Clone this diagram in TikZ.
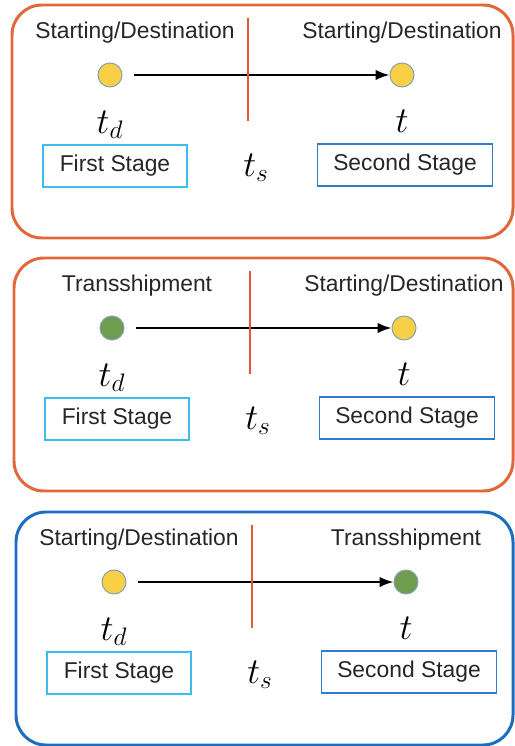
\documentclass[tikz,border=0pt]{standalone}
\usepackage{fontspec}
\setmainfont{Liberation Sans}
\usepackage{tikz}
\usetikzlibrary{arrows.meta, positioning}

\definecolor{panelorange}{HTML}{E2683C}
\definecolor{panelblue}{HTML}{1A6DC0}
\definecolor{divred}{HTML}{E05A3A}
\definecolor{nodeyellow}{HTML}{F7D046}
\definecolor{nodegreen}{HTML}{6F9D4E}
\definecolor{nodeedge}{HTML}{8AA2AE}
\definecolor{boxcyan}{HTML}{3DBDEE}
\definecolor{boxblue}{HTML}{2F7DCA}

\newcommand{\sdname}{Starting/Destination}
\newcommand{\tsname}{Transshipment}

\begin{document}
\begin{tikzpicture}[x=0.02cm, y=-0.02cm, >=Latex,
    panel/.style={draw, line width=1.7pt, rounded corners=0.6cm},
    stop/.style={circle, draw=nodeedge, line width=0.6pt, minimum size=0.48cm, inner sep=0pt},
    stagebox/.style={draw, line width=0.7pt, minimum height=0.84cm, font=\fontsize{13}{15}\selectfont, text=black!85},
    lbl/.style={font=\fontsize{13}{15}\selectfont, text=black!85},
    tlbl/.style={font=\fontsize{20}{24}\selectfont}]
    \useasboundingbox (0,0) rectangle (514,746);

    \foreach \oy/\ox/\lname/\rname/\lcol/\rcol/\pcol [count=\i] in {
        0/0/\sdname/\sdname/nodeyellow/nodeyellow/panelorange,
        253/2/\tsname/\sdname/nodegreen/nodeyellow/panelorange,
        507/4/\sdname/\tsname/nodeyellow/nodegreen/panelblue} {
    \begin{scope}[shift={(\ox,\oy)}]
        % Frame
        \draw [panel, \pcol] (12,5) rectangle ({513-\ox},238);

        % Locations
        \node [stop, fill=\lcol] (a\i) at (110,75) {};
        \node [stop, fill=\rcol] (b\i) at (402,75) {};
        \node [lbl] (la\i) at (135,33) {\lname};
        \node [lbl] (lb\i) at (402,33) {\rname};
        \draw [->, line width=1.1pt, shorten <=0.22cm] (a\i) -- (b\i);

        % Divider
        \coordinate (dtop\i) at (248,18);
        \coordinate (dbot\i) at (248,121);
        \draw [divred, line width=1pt] (dtop\i) -- (dbot\i);

        % Times
        \node [tlbl] (td\i) at (110,125) {$t_d$};
        \node [tlbl] (t\i) at (402,121) {$t$};
        \node [tlbl] (ts\i) at (256,168) {$t_s$};

        % Stages
        \node [stagebox, draw=boxcyan, minimum width=2.88cm] (s1\i) at (115,166) {First Stage};
        \node [stagebox, draw=boxblue, minimum width=3.5cm] (s2\i) at (405,165) {Second Stage};
    \end{scope}
    }
\end{tikzpicture}
\end{document}
